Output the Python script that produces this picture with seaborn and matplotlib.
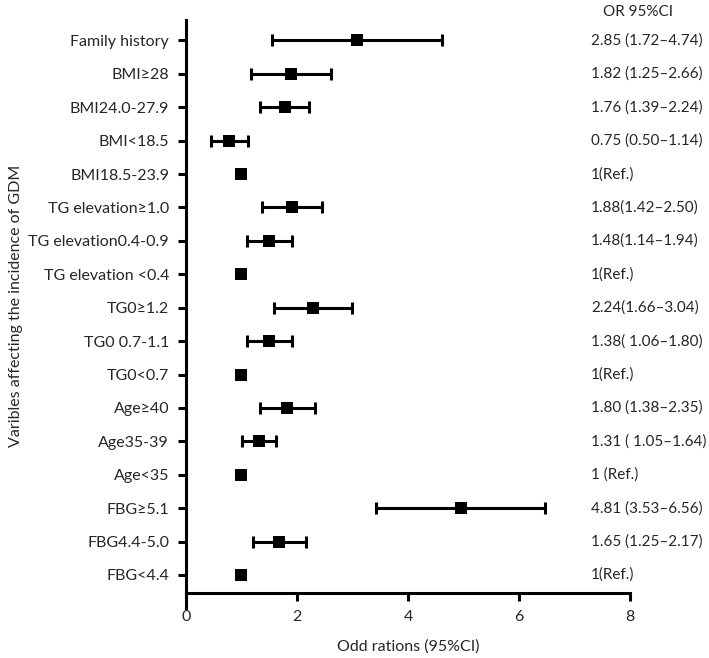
import numpy as np
import pandas as pd
import seaborn as sns
from matplotlib import pyplot as plt

# variables (top to bottom)
labels = ["Family history", "BMI\u226528", "BMI24.0-27.9", "BMI<18.5", "BMI18.5-23.9",
          "TG elevation\u22651.0", "TG elevation0.4-0.9", "TG elevation <0.4",
          "TG0\u22651.2", "TG0 0.7-1.1", "TG0<0.7",
          "Age\u226540", "Age35-39", "Age<35",
          "FBG\u22655.1", "FBG4.4-5.0", "FBG<4.4"]

# values as drawn in the picture
odds = [3.09, 1.89, 1.78, 0.78, 1.0, 1.91, 1.49, 1.0, 2.29, 1.49, 1.0, 1.82, 1.31, 1.0, 4.95, 1.68, 1.0]
low = [1.55, 1.18, 1.34, 0.45, np.nan, 1.37, 1.10, np.nan, 1.59, 1.10, np.nan, 1.34, 1.02, np.nan, 3.43, 1.21, np.nan]
high = [4.61, 2.61, 2.21, 1.12, np.nan, 2.46, 1.91, np.nan, 2.99, 1.91, np.nan, 2.32, 1.63, np.nan, 6.46, 2.16, np.nan]

or_text = ["2.85 (1.72\u20134.74)", "1.82 (1.25\u20132.66)", "1.76 (1.39\u20132.24)", "0.75 (0.50\u20131.14)",
           "1(Ref.)", "1.88(1.42\u20132.50)", "1.48(1.14\u20131.94)", "1(Ref.)",
           "2.24(1.66\u20133.04)", "1.38( 1.06\u20131.80)", "1(Ref.)",
           "1.80 (1.38\u20132.35)", "1.31 ( 1.05\u20131.64)", "1 (Ref.)",
           "4.81 (3.53\u20136.56)", "1.65 (1.25\u20132.17)", "1(Ref.)"]

df = pd.DataFrame({"label": labels, "odds": odds, "low": low, "high": high})
df["pos"] = np.arange(len(df))[::-1]

sns.set_style("ticks")
plt.rcParams['font.family'] = ['Lato', 'DejaVu Sans']

fig = plt.figure(figsize=(7.09, 6.58), dpi=100)
ax = fig.add_axes([0.262, 0.0988, 0.627, 0.8712])

ci = df.dropna()
ax.errorbar(ci["odds"], ci["pos"], xerr=[ci["odds"] - ci["low"], ci["high"] - ci["odds"]],
            fmt="none", ecolor="black", elinewidth=2.2, capsize=4.3, capthick=2.2)
sns.scatterplot(data=df, x="odds", y="pos", marker="s", s=85, color="black",
                edgecolor="black", linewidth=0, ax=ax, zorder=3)

ax.set_xlim(0, 8)
ax.set_ylim(-0.54, 16.62)
ax.set_xticks([0, 2, 4, 6, 8])
ax.set_yticks(df["pos"])
ax.set_yticklabels(df["label"])
ax.tick_params(axis="both", width=2.2, length=6, labelsize=11.5, color="black")
ax.tick_params(axis="y", pad=6)
ax.tick_params(axis="x", pad=6)

sns.despine(ax=ax)
for s in ["left", "bottom"]:
    ax.spines[s].set_linewidth(2.2)
    ax.spines[s].set_color("black")
ax.spines["left"].set_bounds(-0.98, 16.62)

ax.set_xlabel("Odd rations (95%CI)", fontsize=11.5, labelpad=11)
ax.set_ylabel("Varibles affecting the incidence of GDM", fontsize=11.5, labelpad=4)

for p, t in zip(df["pos"], or_text):
    ax.text(7.29, p, t, fontsize=11, va="center", ha="left", clip_on=False)
ax.text(7.51, 16.86, "OR 95%CI", fontsize=11, va="center", ha="left", clip_on=False)

fig.savefig("out.png", dpi=100)
